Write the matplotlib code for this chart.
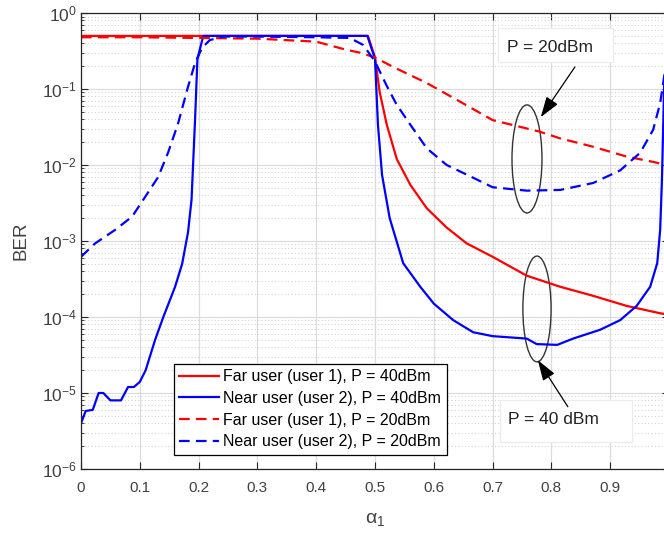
import matplotlib
matplotlib.use('Agg')
import matplotlib.pyplot as plt
from matplotlib.patches import Ellipse, Rectangle
from matplotlib.ticker import LogLocator, NullFormatter

plt.rcParams['font.family'] = ['Liberation Sans', 'DejaVu Sans']
plt.rcParams['mathtext.default'] = 'regular'

# BER vs power allocation coefficient alpha_1
# far user (user 1), P = 40 dBm
a_far40 = [0, 0.1, 0.2, 0.3, 0.4, 0.488, 0.5, 0.508, 0.52, 0.537, 0.56, 0.588,
           0.622, 0.656, 0.70, 0.758, 0.815, 0.871, 0.928, 0.985, 1.0]
ber_far40 = [0.5, 0.5, 0.5, 0.5, 0.5, 0.5, 0.26, 0.091, 0.034, 0.012, 5.5e-3, 2.7e-3,
             1.5e-3, 9.3e-4, 6.2e-4, 3.5e-4, 2.5e-4, 1.9e-4, 1.4e-4, 1.12e-4, 1.07e-4]

# near user (user 2), P = 40 dBm
a_near40 = [0, 0.008, 0.02, 0.03, 0.038, 0.05, 0.068, 0.08, 0.09, 0.1, 0.11, 0.126,
            0.14, 0.16, 0.172, 0.182, 0.188, 0.194, 0.198, 0.208, 0.3, 0.4, 0.487,
            0.5, 0.505, 0.512, 0.525, 0.531, 0.548, 0.577, 0.6, 0.633, 0.667, 0.70,
            0.758, 0.775, 0.81, 0.837, 0.883, 0.917, 0.945, 0.968, 0.98, 0.985,
            0.988, 0.992, 1.0]
ber_near40 = [4.0e-6, 5.8e-6, 6.0e-6, 1.0e-5, 1.0e-5, 8.0e-6, 8.0e-6, 1.2e-5, 1.2e-5,
              1.4e-5, 2.0e-5, 5.0e-5, 1.0e-4, 2.5e-4, 5.0e-4, 1.3e-3, 3.5e-3, 0.04,
              0.25, 0.5, 0.5, 0.5, 0.5, 0.25, 0.034, 7.4e-3, 2.0e-3, 1.4e-3, 5.1e-4,
              2.5e-4, 1.5e-4, 9.1e-5, 6.3e-5, 5.6e-5, 5.2e-5, 4.4e-5, 4.3e-5, 5.2e-5,
              6.8e-5, 9.1e-5, 1.4e-4, 2.5e-4, 5.1e-4, 1.4e-3, 6.3e-3, 0.13, 0.5]

# far user (user 1), P = 20 dBm
a_far20 = [0, 0.1, 0.2, 0.3, 0.4, 0.45, 0.475, 0.5, 0.531, 0.588, 0.645, 0.70,
           0.78, 0.815, 0.871, 0.928, 0.973, 1.0]
ber_far20 = [0.48, 0.48, 0.47, 0.46, 0.42, 0.33, 0.30, 0.26, 0.195, 0.12, 0.068,
             0.039, 0.0275, 0.0224, 0.0174, 0.0129, 0.011, 0.0098]

# near user (user 2), P = 20 dBm
a_near20 = [0, 0.024, 0.058, 0.087, 0.109, 0.131, 0.148, 0.165, 0.182, 0.194,
            0.206, 0.219, 0.242, 0.3, 0.4, 0.457, 0.48, 0.5, 0.52, 0.537, 0.56,
            0.588, 0.622, 0.667, 0.70, 0.758, 0.815, 0.871, 0.917, 0.951, 0.973,
            0.985, 0.992, 1.0]
ber_near20 = [6.2e-4, 9.3e-4, 1.4e-3, 2.1e-3, 3.8e-3, 6.9e-3, 0.0145, 0.035, 0.107,
              0.22, 0.35, 0.44, 0.49, 0.49, 0.48, 0.47, 0.38, 0.23, 0.11, 0.062,
              0.034, 0.0166, 0.01, 6.8e-3, 5.1e-3, 4.6e-3, 4.7e-3, 5.8e-3, 8.5e-3,
              0.0145, 0.029, 0.065, 0.15, 0.5]

x_ticks = [0, 0.1, 0.2, 0.3, 0.4, 0.5, 0.6, 0.7, 0.8, 0.9, 1.0]
x_ticklabels = ['0', '0.1', '0.2', '0.3', '0.4', '0.5', '0.6', '0.7', '0.8', '0.9', '1']
y_ticks = [1e-6, 1e-5, 1e-4, 1e-3, 1e-2, 1e-1, 1]

fig = plt.figure(figsize=(6.64, 5.36), dpi=100)
ax = fig.add_axes([0.122, 0.125, 0.8855, 0.8507])

ax.semilogy(a_far40, ber_far40, color='red', lw=1.6, label='Far user (user 1), P = 40dBm')
ax.semilogy(a_near40, ber_near40, color='blue', lw=1.6, label='Near user (user 2), P = 40dBm')
ax.semilogy(a_far20, ber_far20, color='red', lw=1.6, ls=(0, (4.8, 2.8)),
            label='Far user (user 1), P = 20dBm')
ax.semilogy(a_near20, ber_near20, color='blue', lw=1.6, ls=(0, (4.8, 2.8)),
            label='Near user (user 2), P = 20dBm')

ax.set_xlim(0, 1)
ax.set_ylim(1e-6, 1)
ax.set_xticks(x_ticks)
ax.set_xticklabels(x_ticklabels)
ax.set_yticks(y_ticks)
ax.yaxis.set_minor_locator(LogLocator(base=10, subs=range(2, 10), numticks=100))
ax.yaxis.set_minor_formatter(NullFormatter())

ax.grid(which='major', color='#dcdcdc', lw=0.9, ls='-')
ax.grid(which='minor', axis='y', color='#d4d4d4', lw=0.8, ls=(0, (1, 2)))
ax.set_axisbelow(True)

for s in ax.spines.values():
    s.set_color('#262626')
    s.set_linewidth(0.9)
ax.tick_params(which='both', direction='in', top=True, right=True, colors='#262626',
               labelcolor='#404040')
ax.tick_params(which='major', length=5)
ax.tick_params(which='minor', length=2.5)
ax.tick_params(axis='x', pad=9, labelsize=11)
ax.tick_params(axis='y', pad=3, labelsize=12.5)

ax.set_xlabel(r'$\alpha_1$', fontsize=14, color='#404040', labelpad=11)
ax.set_ylabel('BER', fontsize=13.5, color='#404040', labelpad=9)

leg = ax.legend(loc='lower left', bbox_to_anchor=(0.158, 0.031), fontsize=11.5,
                fancybox=False, edgecolor='black', framealpha=1, borderpad=0.35,
                handlelength=2.5, handletextpad=0.25, labelspacing=0.42,
                borderaxespad=0)
leg.get_frame().set_linewidth(0.9)

# ellipses grouping the curves for each power level
ax.add_patch(Ellipse((0.7585, 0.680), 0.051, 0.237, transform=ax.transAxes,
                     fill=False, ec='#333333', lw=1.0))
ax.add_patch(Ellipse((0.7755, 0.351), 0.048, 0.232, transform=ax.transAxes,
                     fill=False, ec='#333333', lw=1.0))

# label boxes
ax.add_patch(Rectangle((0.709, 0.893), 0.196, 0.074, transform=ax.transAxes,
                       fc='white', ec='#ebebeb', lw=0.8, zorder=2.5))
ax.add_patch(Rectangle((0.7126, 0.059), 0.2244, 0.092, transform=ax.transAxes,
                       fc='white', ec='#ebebeb', lw=0.8, zorder=2.5))

arrow = dict(arrowstyle='-|>,head_length=0.9,head_width=0.3', color='black',
             lw=0.9, shrinkA=0, shrinkB=0, mutation_scale=14)
ax.text(0.798, 0.355, 'P = 20dBm', fontsize=12.5, ha='center', va='center',
        color='#222222', zorder=3)
ax.annotate('', xy=(0.782, 0.0427), xytext=(0.840, 0.195), arrowprops=arrow)
ax.text(0.803, 4.5e-6, 'P = 40 dBm', fontsize=12.5, ha='center', va='center',
        color='#222222', zorder=3)
ax.annotate('', xy=(0.777, 2.7e-5), xytext=(0.828, 6.6e-6), arrowprops=arrow)

fig.savefig('out.png', dpi=100)
